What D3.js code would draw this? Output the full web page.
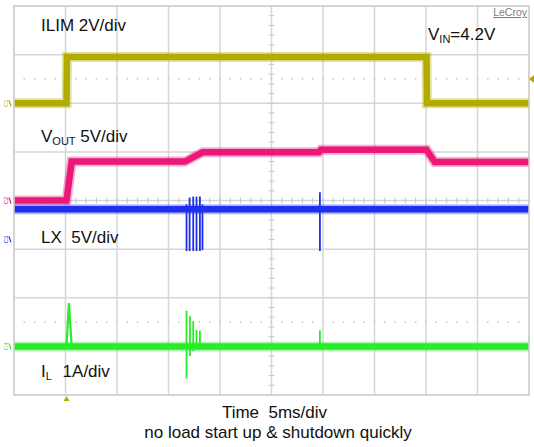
<!DOCTYPE html>
<html><head><meta charset="utf-8">
<script src="https://cdn.jsdelivr.net/npm/d3@7/dist/d3.min.js"></script>
<style>
html,body{margin:0;padding:0;background:#fff;}
svg{display:block;font-family:Arial,"Liberation Sans",sans-serif;}
</style></head>
<body>
<svg id="c" width="534" height="447"></svg>
<script>
// ---- data (time in ms, 5 ms/div, 10 divisions) ----
const timeDomain = [0, 50];
const divRange = [-4, 4];

// ILIM (C1), 2 V/div, zero marker at +2 div
const ilimT = [0, 5.1, 5.14, 40.05, 40.09, 50];
const ilimV = [0, 0, 1.9, 1.9, 0, 0];

// VOUT (C2), 5 V/div, zero marker at 0 div
const voutT = [0, 5.1, 5.6, 16.6, 18.3, 29.6, 29.8, 40.05, 40.85, 50];
const voutV = [0, 0, 4.0, 4.0, 4.95, 4.95, 5.22, 5.22, 3.96, 3.96];

// LX (C3), 5 V/div, zero marker at -0.8 div
const lxT = [0, 50];
const lxV = [3.1, 3.1];
const lxSpikeT  = [16.75, 17.05, 17.4, 17.72, 18.05, 18.3, 29.7];
const lxSpikeLo = [-1.2, -1.2, -1.2, -1.2, -1.2, -1.1, -1.2];
const lxSpikeHi = [3.6, 4.3, 4.4, 4.4, 4.4, 3.6, 4.85];

// IL (C4), 1 A/div, zero marker at -3 div
const ilT = [0, 50];
const ilV = [0, 0];
const ilPulseT = [5.1, 5.33, 5.6];
const ilPulseV = [0, 0.89, 0];
const ilSpikeT  = [16.75, 17.08, 17.4, 17.72, 18.05, 29.7];
const ilSpikeLo = [-0.66, -0.2, -0.1, -0.05, 0, 0];
const ilSpikeHi = [0.73, 0.62, 0.52, 0.34, 0.32, 0.33];

const channels = [
  {name:"C1", offset:2.0,  scale:2, color:"#b2ab00"},
  {name:"C2", offset:0.0,  scale:5, color:"#ec1877"},
  {name:"C3", offset:-0.8, scale:5, color:"#1f2ff0"},
  {name:"C4", offset:-3.0, scale:1, color:"#27ec27"}
];

// ---- layout ----
const svg = d3.select("#c");
const x = d3.scaleLinear().domain(timeDomain).range([14, 529]);
const yDiv = d3.scaleLinear().domain(divRange).range([395, 6]);
const yOf = ch => v => yDiv(ch.offset + v / ch.scale);

// grid
const g = svg.append("g");
const xDivs = d3.range(0, 51, 5);
const yDivs = d3.range(-4, 5, 1);
g.selectAll("line.vx").data(xDivs).join("line")
  .attr("x1", d=>x(d)).attr("x2", d=>x(d)).attr("y1", yDiv(4)).attr("y2", yDiv(-4))
  .attr("stroke", "#d6d6d6").attr("stroke-width", 1.5);
g.selectAll("line.hy").data(yDivs).join("line")
  .attr("y1", d=>yDiv(d)).attr("y2", d=>yDiv(d)).attr("x1", x(0)).attr("x2", x(50))
  .attr("stroke", "#d6d6d6").attr("stroke-width", 1.5);
// minor ticks on centre axes
const xMinor = d3.range(0, 50.01, 1);
const yMinor = d3.range(-4, 4.01, 0.2);
g.selectAll("line.mx").data(xMinor).join("line")
  .attr("x1", d=>x(d)).attr("x2", d=>x(d)).attr("y1", yDiv(0)-3).attr("y2", yDiv(0)+3)
  .attr("stroke", "#c8c8c8").attr("stroke-width", 1);
g.selectAll("line.my").data(yMinor).join("line")
  .attr("y1", d=>yDiv(d)).attr("y2", d=>yDiv(d)).attr("x1", x(25)-3).attr("x2", x(25)+3)
  .attr("stroke", "#c8c8c8").attr("stroke-width", 1);
// dotted rows
[2.5, -2.5].forEach(r => {
  g.selectAll(null).data(d3.range(1, 50, 1)).join("rect")
    .attr("x", d=>x(d)-0.75).attr("y", yDiv(r)-0.75).attr("width", 1.5).attr("height", 1.5)
    .attr("fill", "#c4c4c4");
});

// traces
const line = (ch) => d3.line().x(d=>x(d[0])).y(d=>yOf(ch)(d[1]));
function band(ch, T, V) {
  const pts = T.map((t,i)=>[t, V[i]]);
  svg.append("path").attr("d", line(ch)(pts)).attr("fill","none")
    .attr("stroke", ch.color).attr("stroke-width", 10).attr("stroke-opacity", 0.35);
  svg.append("path").attr("d", line(ch)(pts)).attr("fill","none")
    .attr("stroke", ch.color).attr("stroke-width", 6.5);
}
function spikes(ch, T, Lo, Hi) {
  svg.append("g").selectAll("line").data(T).join("line")
    .attr("x1", d=>x(d)).attr("x2", d=>x(d))
    .attr("y1", (d,i)=>yOf(ch)(Lo[i])).attr("y2", (d,i)=>yOf(ch)(Hi[i]))
    .attr("stroke", ch.color).attr("stroke-width", 1.8);
}
band(channels[0], ilimT, ilimV);
band(channels[1], voutT, voutV);
band(channels[2], lxT, lxV);
spikes(channels[2], lxSpikeT, lxSpikeLo, lxSpikeHi);
band(channels[3], ilT, ilV);
spikes(channels[3], ilSpikeT, ilSpikeLo, ilSpikeHi);
svg.append("path").attr("d", line(channels[3])(ilPulseT.map((t,i)=>[t, ilPulseV[i]])))
  .attr("fill","none").attr("stroke", channels[3].color).attr("stroke-width", 2.2);

// border
svg.append("rect").attr("x", x(0)).attr("y", yDiv(4)).attr("width", x(50)-x(0)).attr("height", yDiv(-4)-yDiv(4))
  .attr("fill","none").attr("stroke","#cfcfcf").attr("stroke-width",1.5);

// channel markers
channels.forEach(ch => {
  const yy = yDiv(ch.offset);
  const mg = svg.append("g").attr("transform", `translate(8,${yy}) rotate(-90)`);
  mg.append("text").attr("x", 0).attr("y", 0).attr("font-size", 6).attr("fill", ch.color)
    .attr("text-anchor","middle").text(ch.name);
  svg.append("line").attr("x1", 9).attr("x2", 11).attr("y1", yy-3).attr("y2", yy+3)
    .attr("stroke", ch.color).attr("stroke-width", 1.2);
});
// trigger markers
svg.append("path").attr("d", `M${x(5.1)-3},401 L${x(5.1)+3},401 L${x(5.1)},396 Z`).attr("fill", "#b2ab00");
svg.append("path").attr("d", `M534,${yDiv(2.5)-4} L534,${yDiv(2.5)+4} L529,${yDiv(2.5)} Z`).attr("fill", "#b2ab00");

// labels
const T = (xx, yy, size) => svg.append("text").attr("x", xx).attr("y", yy).attr("font-size", size).attr("fill","#111");
T(41, 31, 17).text("ILIM 2V/div");
const vo = T(41, 142, 17);
vo.append("tspan").text("V");
vo.append("tspan").attr("font-size", 11).attr("dy", 3).text("OUT");
vo.append("tspan").attr("dy", -3).text(" 5V/div");
T(41, 243, 17).attr("xml:space","preserve").text("LX  5V/div");
const il = T(41, 377, 17);
il.append("tspan").text("I");
il.append("tspan").attr("font-size", 11).attr("dy", 3).text("L");
il.append("tspan").attr("dy", -3).attr("dx", 6).text(" 1A/div");
const vin = T(428, 40, 17);
vin.append("tspan").text("V");
vin.append("tspan").attr("font-size", 11).attr("dy", 3).text("IN");
vin.append("tspan").attr("dy", -3).text("=4.2V");
svg.append("text").attr("x", 527).attr("y", 16).attr("text-anchor","end").attr("font-size", 10.5)
  .attr("fill","#7d7d7d").attr("text-decoration","underline").text("LeCroy");
svg.append("text").attr("x", 274.5).attr("y", 418).attr("text-anchor","middle").attr("font-size", 17)
  .attr("fill","#111").attr("xml:space","preserve").text("Time  5ms/div");
svg.append("text").attr("x", 278).attr("y", 438).attr("text-anchor","middle").attr("font-size", 17)
  .attr("fill","#111").text("no load start up & shutdown quickly");
</script>
</body></html>
